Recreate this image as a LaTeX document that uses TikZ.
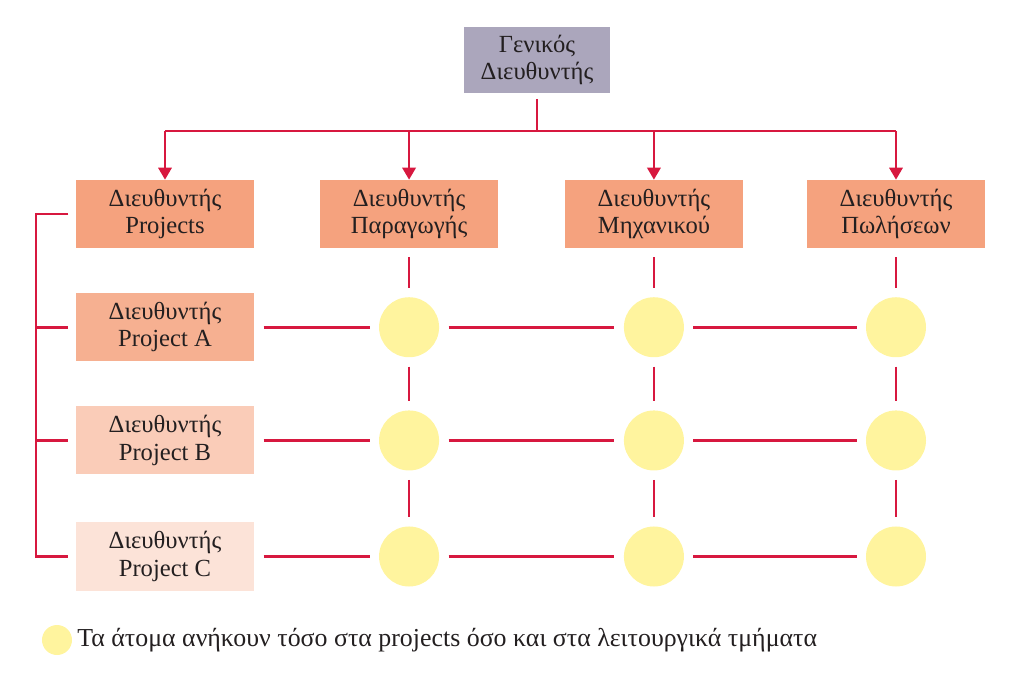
\documentclass[tikz,border=0pt]{standalone}
\usepackage{fontspec}
\setmainfont{Liberation Serif}
\usepackage{xcolor}
\usepackage{tikz}
\usetikzlibrary{arrows.meta, positioning, calc}
\definecolor{linkred}{HTML}{D7183F}
\definecolor{topgray}{HTML}{ABA6BC}
\definecolor{deptorange}{HTML}{F5A27E}
\definecolor{memberyellow}{HTML}{FFF49E}
\definecolor{textdark}{HTML}{231F20}
\tikzstyle{block} = [rectangle, minimum width=4.45cm, minimum height=1.7cm, inner sep=0pt, align=center, text=textdark, font=\fontsize{17.5}{19.5}\selectfont, fill=deptorange]
\tikzstyle{line} = [draw=linkred, line width=1.9pt]
\tikzstyle{gap} = [line, shorten <=0.23cm, shorten >=0.23cm]
\tikzstyle{arrow} = [line, -{Triangle[width=0.33cm, length=0.3cm]}]
\tikzstyle{member} = [circle, fill=memberyellow, minimum size=1.5cm, inner sep=0pt]

\begin{document}
\begin{tikzpicture}[x=0.025cm, y=-0.025cm, node distance=2.83cm]
        \useasboundingbox (0,0) rectangle (1024,683);
        \node (gen_mgr) [block, fill=topgray, minimum width=3.65cm, minimum height=1.625cm] at (537,60) {Γενικός\\Διευθυντής};
        \node (proj_mgr) [block] at (165,214) {Διευθυντής\\Projects};
        \node (prod_mgr) [block, right of=proj_mgr, xshift=3.27cm] {Διευθυντής\\Παραγωγής};
        \node (eng_mgr) [block, right of=prod_mgr, xshift=3.29cm] {Διευθυντής\\Μηχανικού};
        \node (sales_mgr) [block, right of=eng_mgr, xshift=3.22cm] {Διευθυντής\\Πωλήσεων};
        \node (proj_a) [block, fill=deptorange!85!white, below of=proj_mgr] {Διευθυντής\\Project A};
        \node (proj_b) [block, fill=deptorange!55!white, below of=proj_a] {Διευθυντής\\Project B};
        \node (proj_c) [block, fill=deptorange!30!white, below of=proj_b, yshift=-0.07cm] {Διευθυντής\\Project C};

        % members of both project and department
        \foreach \p in {a,b,c} {
            \node (prod_\p) [member] at (prod_mgr |- proj_\p) {};
            \node (eng_\p) [member] at (eng_mgr |- proj_\p) {};
            \node (sales_\p) [member] at (sales_mgr |- proj_\p) {};
        }

        % top line and arrows
        \coordinate (bus) at (537,131);
        \draw [line, shorten <=0.15cm] (gen_mgr) -- (gen_mgr |- bus);
        \draw [line] (proj_mgr |- bus) -- (sales_mgr |- bus);
        \foreach \d in {proj_mgr, prod_mgr, eng_mgr, sales_mgr}
            \draw [arrow] (\d |- bus) -- (\d);

        % left bracket
        \coordinate (spine) at (36,214);
        \draw [line] ([xshift=-0.18cm]proj_mgr.west) -- (spine) -- (spine |- proj_c.west) -- ([xshift=-0.18cm]proj_c.west);
        \foreach \p in {proj_a, proj_b}
            \draw [line] (spine |- \p.west) -- ([xshift=-0.18cm]\p.west);

        % project rows
        \foreach \p in {a,b,c} {
            \draw [gap] (proj_\p) -- (prod_\p);
            \draw [gap] (prod_\p) -- (eng_\p);
            \draw [gap] (eng_\p) -- (sales_\p);
        }
        % department columns
        \foreach \d in {prod, eng, sales} {
            \draw [gap] (\d_mgr) -- (\d_a);
            \draw [gap] (\d_a) -- (\d_b);
            \draw [gap] (\d_b) -- (\d_c);
        }

        % legend
        \node (key) [member, minimum size=0.75cm] at (57,640) {};
        \node (key_text) [right=0.12cm of key, inner sep=0pt, text=textdark, font=\fontsize{18.4}{21}\selectfont] {Τα άτομα ανήκουν τόσο στα projects όσο και στα λειτουργικά τμήματα};
\end{tikzpicture}
\end{document}
